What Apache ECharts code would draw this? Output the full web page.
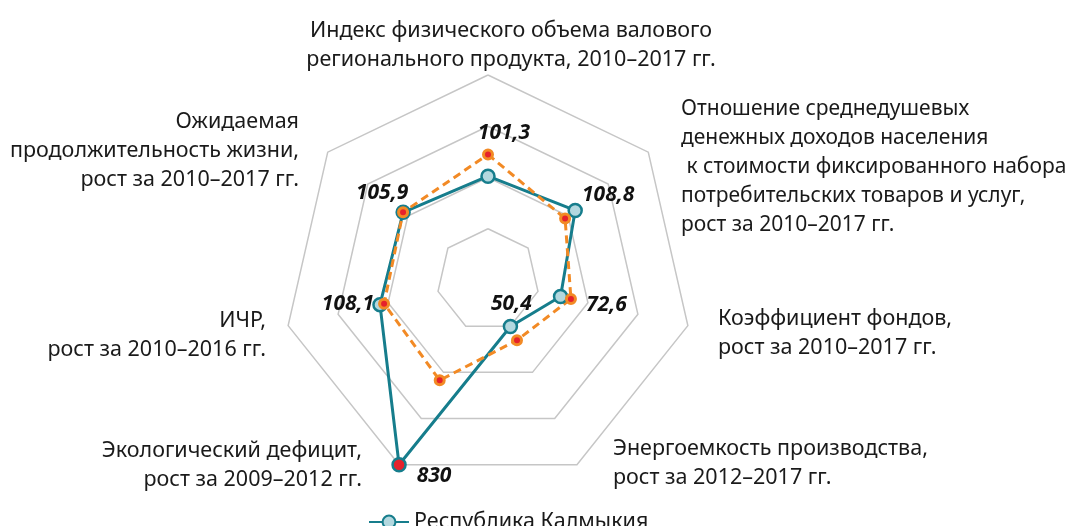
<!DOCTYPE html>
<html>
<head>
<meta charset="utf-8">
<script src="https://cdn.jsdelivr.net/npm/echarts@6/dist/echarts.min.js"></script>
<style>
  html, body { margin: 0; padding: 0; background: #fff; }
  #main { width: 1072px; height: 526px; }
</style>
</head>
<body>
<div id="main"></div>
<script>
// данные (по часовой стрелке от верхней оси)
var indicators = [
    'Индекс физического объема валового\nрегионального продукта, 2010–2017 гг.',
    'Отношение среднедушевых\nденежных доходов населения\n к стоимости фиксированного набора\nпотребительских товаров и услуг,\nрост за 2010–2017 гг.',
    'Коэффициент фондов,\nрост за 2010–2017 гг.',
    'Энергоемкость производства,\nрост за 2012–2017 гг.',
    'Экологический дефицит,\nрост за 2009–2012 гг.',
    'ИЧР,\nрост за 2010–2016 гг.',
    'Ожидаемая\nпродолжительность жизни,\nрост за 2010–2017 гг.'
];
var kalmykia = [101.3, 108.8, 72.6, 50.4, 830, 108.1, 105.9];
var russia = [122.4, 96.2, 83.0, 65.2, 108.6, 104.0, 106.0];
var seriesNames = ['Республика Калмыкия', 'Российская Федерация'];
var axisMax = 200;

var FONT = '"Noto Sans", "Open Sans", sans-serif';
var TEAL = '#167d8c';
var ORANGE = '#f28a25';
var RED = '#e5222c';

var center = [488, 280];
var radius = 205;

// где стоят подписи осей
var namePos = [
    { x: 511, y: 16, align: 'center' },
    { x: 681, y: 95, align: 'left', size: 21 },
    { x: 718, y: 304, align: 'left' },
    { x: 613, y: 434, align: 'left' },
    { x: 362, y: 436, align: 'right' },
    { x: 266, y: 306, align: 'right' },
    { x: 299, y: 107, align: 'right' }
];
// смещения подписей значений от точек
var labelOffset = [[16, -43], [33, -15], [46, 8], [1, -23], [35, 11], [-32, -1], [-21, -19]];

function fmt(v) {
    return String(v).replace('.', ',');
}

function buildData(arr, withLabels) {
    var out = arr.map(function (v, i) {
        var item = { value: [Math.min(v, axisMax), i] };
        if (withLabels) {
            item.label = { show: true, position: 'inside', offset: labelOffset[i] };
        }
        if (v > axisMax) {
            item.itemStyle = { color: RED };
        }
        return item;
    });
    // замыкаем контур
    out.push({ value: [Math.min(arr[0], axisMax), arr.length], symbol: 'none', label: { show: false } });
    return out;
}

var myChart = echarts.init(document.getElementById('main'));

var option = {
    animation: false,
    radar: {
        center: center,
        radius: radius,
        startAngle: 90,
        shape: 'polygon',
        splitNumber: 4,
        indicator: indicators.map(function (n) { return { name: n, min: 0, max: axisMax }; }),
        axisName: { show: false },
        axisLine: { show: false },
        axisTick: { show: false },
        axisLabel: { show: false },
        splitArea: { show: false },
        splitLine: { lineStyle: { color: '#c6c6c6', width: 1.5 } }
    },
    polar: {
        center: center,
        radius: radius
    },
    angleAxis: {
        type: 'value',
        min: 0,
        max: indicators.length,
        startAngle: 90,
        clockwise: true,
        show: false
    },
    radiusAxis: {
        type: 'value',
        min: 0,
        max: axisMax,
        show: false
    },
    legend: {
        data: [seriesNames[0]],
        left: 363,
        top: 506,
        itemWidth: 40,
        itemHeight: 16,
        textStyle: { fontFamily: FONT, fontSize: 21.5, color: '#1a1a1a' }
    },
    series: [
        {
            name: seriesNames[0],
            type: 'line',
            coordinateSystem: 'polar',
            clip: false,
            symbol: 'circle',
            symbolSize: 13,
            lineStyle: { color: TEAL, width: 3 },
            itemStyle: { color: '#b3d8df', borderColor: TEAL, borderWidth: 2.5 },
            label: {
                formatter: function (p) { return fmt(kalmykia[p.dataIndex]); },
                fontFamily: FONT,
                fontSize: 21,
                fontStyle: 'italic',
                fontWeight: 'bold',
                color: '#111'
            },
            data: buildData(kalmykia, true)
        },
        {
            name: seriesNames[1],
            type: 'line',
            coordinateSystem: 'polar',
            clip: false,
            symbol: 'circle',
            symbolSize: 9,
            lineStyle: { color: ORANGE, width: 3, type: [8, 5] },
            itemStyle: { color: RED, borderColor: ORANGE, borderWidth: 3 },
            data: buildData(russia, false)
        }
    ],
    graphic: indicators.map(function (n, i) {
        return {
            type: 'text',
            x: namePos[i].x,
            y: namePos[i].y,
            silent: true,
            style: {
                text: n,
                align: namePos[i].align,
                verticalAlign: 'top',
                fontFamily: FONT,
                fontSize: namePos[i].size || 21.5,
                lineHeight: 29,
                fill: '#1a1a1a'
            }
        };
    })
};

myChart.setOption(option);
</script>
</body>
</html>
